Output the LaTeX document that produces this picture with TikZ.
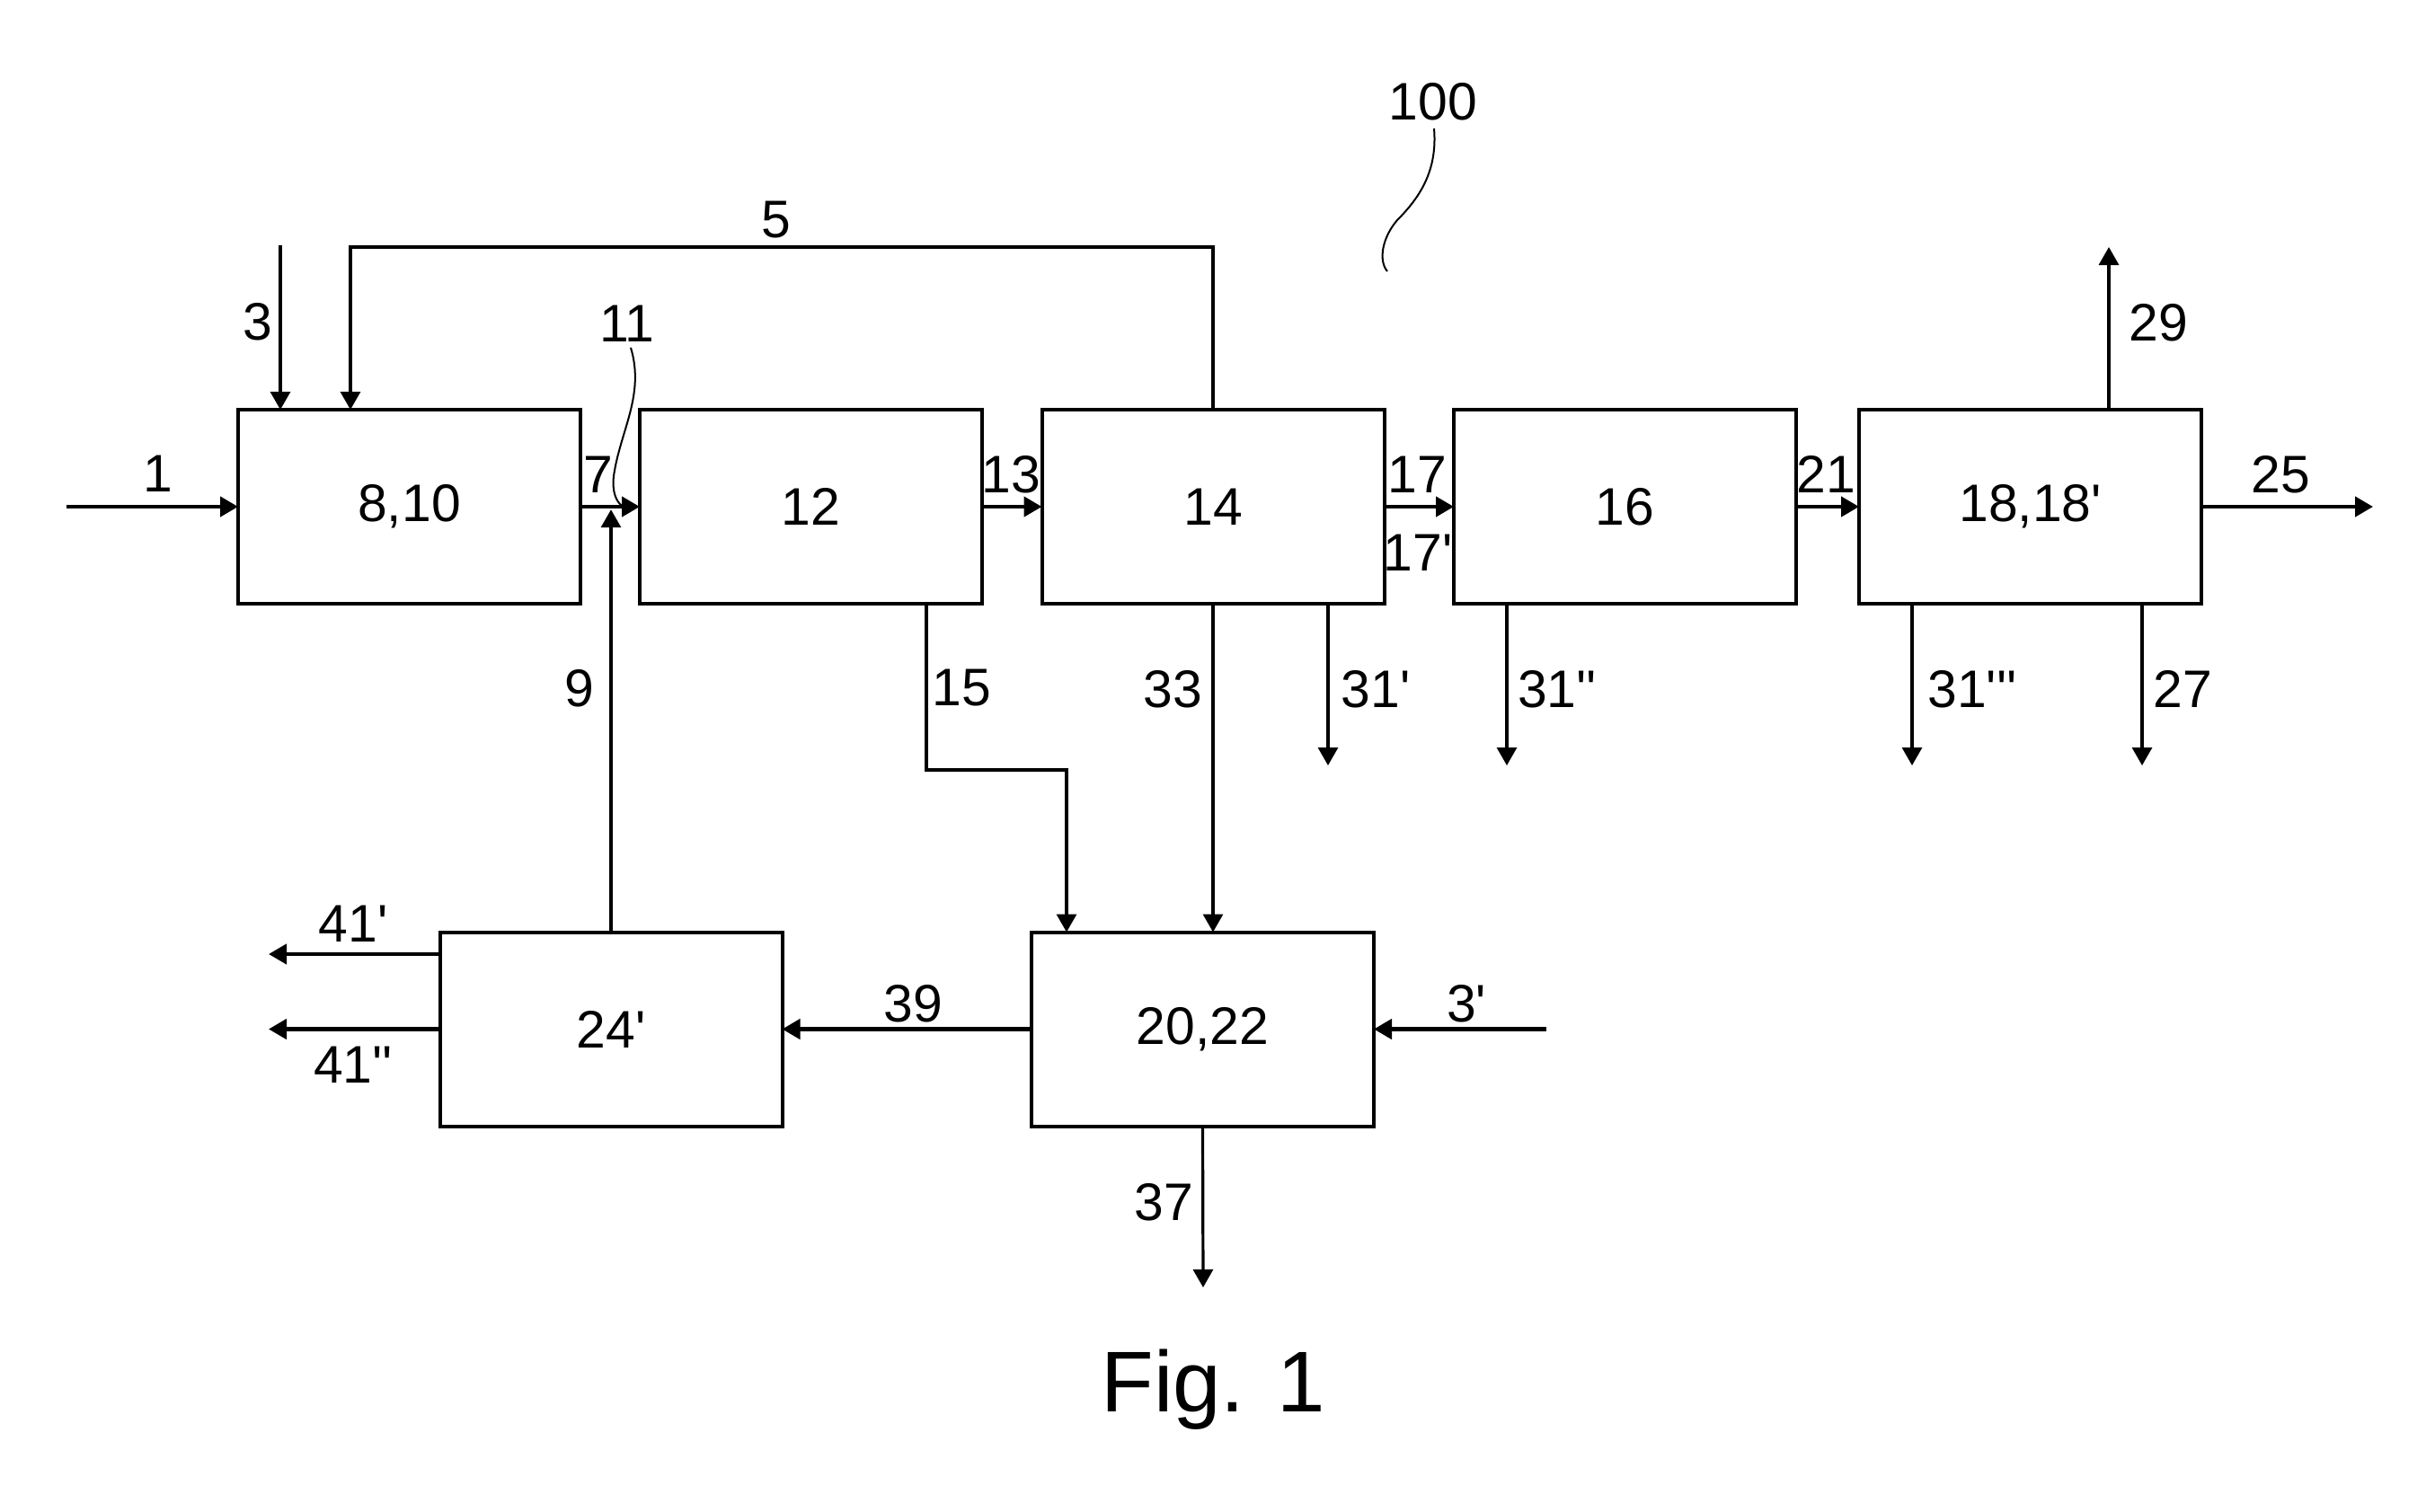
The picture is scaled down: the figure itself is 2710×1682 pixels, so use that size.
\documentclass[tikz,border=0pt]{standalone}
\usepackage{fontspec}
\setmainfont{Liberation Sans}
\usetikzlibrary{arrows.meta}
\newcommand{\prm}{\textquotesingle}
\begin{document}
\begin{tikzpicture}[x=0.25pt,y=-0.25pt,
  lbl/.style={font=\fontsize{14.7}{17}\selectfont, inner sep=0},
  box/.style={draw, line width=1pt, minimum width=95.25pt, minimum height=54pt, inner sep=0, outer sep=0, font=\fontsize{14.7}{17}\selectfont},
  tip/.style={-{Triangle[length=5pt,width=5.5pt]}},
  flow/.style={tip, line width=1.1pt},
  feed/.style={tip, line width=0.8pt},
  plainline/.style={line width=0.8pt},
  leader/.style={line width=0.5pt}]
\useasboundingbox (0,0) rectangle (2710,1682);

% boxes
\node[box] (b810) at (455.5,564) {8,10};
\node[box] (b12) at (902.5,564) {12};
\node[box] (b14) at (1350,564) {14};
\node[box] (b16) at (1808.5,564) {16};
\node[box] (b18) at (2259.5,564) {18,18\prm};
\node[box] (b24) at (680,1145.5) {24\prm};
\node[box] (b2022) at (1338.5,1145.5) {20,22};

% free ends
\coordinate (in1) at (74,564);
\coordinate (in3) at (312,273);
\coordinate (c5) at (390,275);
\coordinate (c15) at (1187,857);
\coordinate (out25) at (2641,564);
\coordinate (out29) at (2347,275);
\coordinate (o31a) at (1478,852);
\coordinate (o31b) at (1677,852);
\coordinate (o31c) at (2128,852);
\coordinate (o27) at (2384,852);
\coordinate (out37) at (1339,1433);
\coordinate (in3p) at (1721,1145.5);
\coordinate (o41a) at (299,1062);
\coordinate (o41b) at (299,1145.5);

% connectors
\draw[flow] (in1) -- (b810.west);
\draw[feed] (in3) -- (in3 |- b810.north);
\draw[feed] (b14.north) |- (c5) -- (c5 |- b810.north);
\draw[flow] (b810.east) -- (b12.west);
\draw[feed] (b24.north) -- ([yshift=-0.8pt]b24.north |- b810.east);
\draw[flow] (b12.east) -- (b14.west);
\draw[feed] ([xshift=32.1pt]b12.south) |- (c15) -- (c15 |- b2022.north);
\draw[flow] (b14.east) -- (b16.west);
\draw[flow] (b16.east) -- (b18.west);
\draw[flow] (b18.east) -- (out25);
\draw[feed] (out29 |- b18.north) -- (out29);
\draw[feed] (o31a |- b14.south) -- (o31a);
\draw[feed] (o31b |- b16.south) -- (o31b);
\draw[feed] (o31c |- b18.south) -- (o31c);
\draw[feed] (o27 |- b18.south) -- (o27);
\draw[feed] (b14.south) -- (b14.south |- b2022.north);
\draw[feed] (b2022.south) -- (out37);
\draw[flow] (b2022.west) -- (b24.east);
\draw[flow] (in3p) -- (b2022.east);
\draw[flow] (o41a -| b24.west) -- (o41a);
\draw[flow] (b24.west) -- (o41b);

% leader lines
\coordinate (l11s) at (702,387);
\coordinate (l11e) at (692,563);
\draw[leader] (l11s) .. controls (718,440) and (690,480) .. (683,530) .. controls (681,548) and (686,558) .. (l11e);
\coordinate (l100s) at (1596,143);
\coordinate (l100e) at (1544,302);
\draw[leader] (l100s) .. controls (1600,190) and (1580,220) .. (1555,245) .. controls (1538,265) and (1534,290) .. (l100e);

% labels
\node[lbl] (t1) at (176,527) {1};
\node[lbl] (t3) at (287,358) {3};
\node[lbl] (t5) at (864,245) {5};
\node[lbl] (t11) at (698,360) {11};
\node[lbl] (t7) at (666,528) {7};
\node[lbl] (t13) at (1125,528) {13};
\node[lbl] (t17) at (1577,528) {17};
\node[lbl] (t17p) at (1578,615) {17\prm};
\node[lbl] (t21) at (2032,528) {21};
\node[lbl] (t25) at (2538,528) {25};
\node[lbl] (t29) at (2402,359) {29};
\node[lbl] (t9) at (645,766) {9};
\node[lbl] (t15) at (1070,766) {15};
\node[lbl] (t33) at (1305,767) {33};
\node[lbl] (t31a) at (1531,767) {31\prm};
\node[lbl] (t31b) at (1733,767) {31\prm\prm};
\node[lbl] (t31c) at (2195,767) {31\prm\prm\prm};
\node[lbl] (t27) at (2429,767) {27};
\node[lbl] (t41a) at (393,1028) {41\prm};
\node[lbl] (t41b) at (393,1185) {41\prm\prm};
\node[lbl] (t39) at (1016,1117) {39};
\node[lbl] (t3p) at (1632,1117) {3\prm};
\node[lbl] (t37) at (1295,1338) {37};
\node[lbl] (t100) at (1595,113) {100};
\node[font=\fontsize{24}{28}\selectfont, inner sep=0] (fig) at (1350,1547) {Fig. 1};
\end{tikzpicture}
\end{document}
